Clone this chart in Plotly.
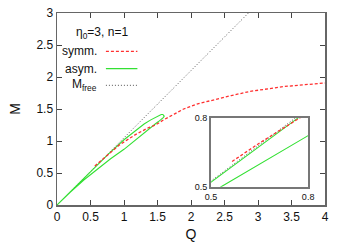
import plotly.graph_objects as go

# ---- data ----
asym_Q = [0.0, 0.3, 0.5, 0.77, 1.0, 1.2, 1.3, 1.4, 1.47, 1.52, 1.555, 1.58, 1.595, 1.60, 1.59, 1.56, 1.51, 1.47, 1.4, 1.3, 1.2, 1.0, 0.8, 0.531, 0.4, 0.2, 0.0]
asym_M = [0.0, 0.31, 0.52, 0.80, 1.02, 1.19, 1.265, 1.33, 1.37, 1.40, 1.415, 1.415, 1.405, 1.39, 1.37, 1.34, 1.30, 1.27, 1.21, 1.125, 1.04, 0.87, 0.722, 0.50, 0.39, 0.20, 0.0]

symm_Q = [0.565, 0.65, 0.77, 0.92, 1.17, 1.37, 1.47, 1.59, 1.75, 1.89, 2.1, 2.39, 2.6, 2.88, 3.1, 3.38, 3.7, 4.0]
symm_M = [0.61, 0.69, 0.795, 0.93, 1.10, 1.21, 1.25, 1.33, 1.42, 1.50, 1.58, 1.66, 1.71, 1.775, 1.81, 1.85, 1.88, 1.906]

free_Q = [0.0, 3.0]
free_M = [0.0, 3.15]

x_ticks = [0, 0.5, 1, 1.5, 2, 2.5, 3, 3.5, 4]
y_ticks = [0, 0.5, 1, 1.5, 2, 2.5, 3]
inset_ticks = [0.5, 0.8]

RED = "#ff3030"
GREEN = "#33e033"
GRAY = "#555555"

fig = go.Figure()

for ax in [("x", "y"), ("x2", "y2")]:
    fig.add_trace(go.Scatter(x=free_Q, y=free_M, mode="lines", xaxis=ax[0], yaxis=ax[1],
                             line=dict(color=GRAY, width=1, dash="1px,2px"), showlegend=False, hoverinfo="skip"))
    fig.add_trace(go.Scatter(x=asym_Q, y=asym_M, mode="lines", xaxis=ax[0], yaxis=ax[1],
                             line=dict(color=GREEN, width=1.1),
                             showlegend=False, hoverinfo="skip"))
    fig.add_trace(go.Scatter(x=symm_Q, y=symm_M, mode="lines", xaxis=ax[0], yaxis=ax[1],
                             line=dict(color=RED, width=1.3, dash="3px,2px"),
                             showlegend=False, hoverinfo="skip"))

FONT = "Liberation Sans, Arial, sans-serif"
fig.update_layout(
    width=346, height=242,
    margin=dict(l=57, r=21, t=13, b=37, autoexpand=False),
    paper_bgcolor="white", plot_bgcolor="white",
    font=dict(family=FONT, size=12, color="#111"),
    showlegend=False,
    xaxis=dict(range=[0, 4], tickvals=x_ticks, ticktext=[f"{v:g}" for v in x_ticks],
               ticks="inside", ticklen=5, tickcolor="#444", mirror="ticks", automargin=False,
               showline=True, linecolor="#666", linewidth=1.5, showgrid=False, zeroline=False,
               ticklabeloverflow="allow", title=dict(text="Q", standoff=6)),
    yaxis=dict(range=[0, 3], tickvals=y_ticks, ticktext=[f"{v:g}" for v in y_ticks],
               ticks="inside", ticklen=5, tickcolor="#444", mirror="ticks", automargin=False,
               showline=True, linecolor="#666", linewidth=1.5, showgrid=False, zeroline=False,
               ticklabeloverflow="allow", title=dict(text="M", standoff=12)),
    xaxis2=dict(domain=[0.575, 0.937], anchor="y2", range=[0.5, 0.8], tickvals=inset_ticks,
                ticktext=["0.5", "0.8"], ticks="", showline=True, mirror=True, linecolor="#777",
                linewidth=2, showgrid=False, zeroline=False, tickfont=dict(size=9), automargin=False),
    yaxis2=dict(domain=[0.095, 0.455], anchor="x2", range=[0.5, 0.8], tickvals=inset_ticks,
                ticktext=["0.5", "0.8"], ticks="", showline=True, mirror=True, linecolor="#777",
                linewidth=2, showgrid=False, zeroline=False, tickfont=dict(size=9), automargin=False),
)

# legend (gnuplot style: text left, sample right), placed in the main axes' coordinates
fig.add_annotation(xref="x", yref="y", x=0.26, y=2.68, xanchor="left", yanchor="middle",
                   text="η<sub>0</sub>=3, n=1", showarrow=False, font=dict(size=12))
labels = ["symm.", "asym.", "M<sub>free</sub>"]
ys = [2.40, 2.13, 1.87]
styles = [dict(color=RED, width=1.3, dash="3px,2px"), dict(color=GREEN, width=1.3), dict(color=GRAY, width=1, dash="1px,2px")]
for lab, yy, st in zip(labels, ys, styles):
    fig.add_annotation(xref="x", yref="y", x=0.63, y=yy, xanchor="right", yanchor="middle",
                       text=lab, showarrow=False, font=dict(size=12))
    fig.add_shape(type="line", xref="x", yref="y", x0=0.73, x1=1.2, y0=yy, y1=yy, line=st)

fig.write_html("out.html", config={"displayModeBar": False, "staticPlot": True},
               post_script="document.body.style.margin='0';document.body.style.overflow='hidden';")
